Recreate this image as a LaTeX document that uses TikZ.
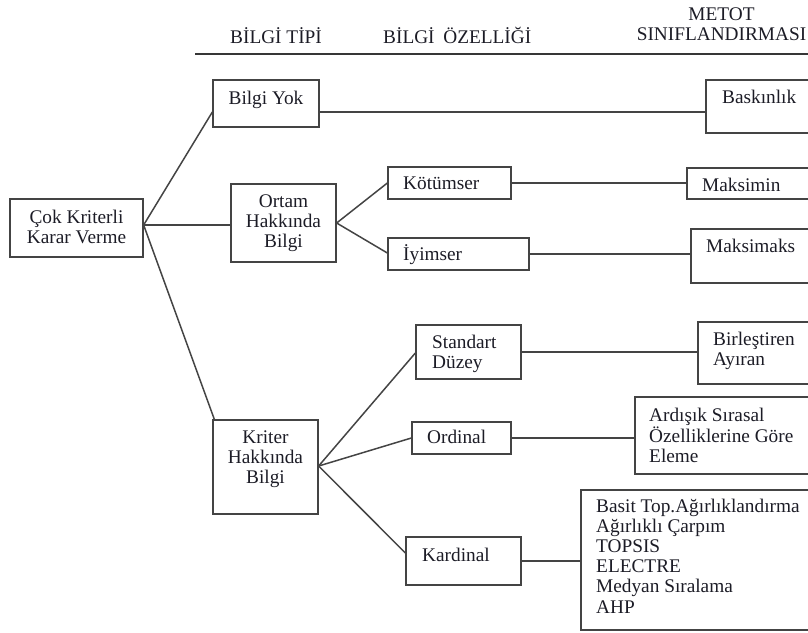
\documentclass[tikz,border=0pt]{standalone}
\usepackage{fontspec}
\setmainfont{Liberation Serif}
% stacked lines whose baseline is the baseline of the first line
\newcommand{\txtlines}[2][l]{\begin{tabular}[t]{@{}#1@{}}#2\end{tabular}}
\definecolor{inkcol}{RGB}{28,28,38}
\definecolor{rulecol}{RGB}{68,68,68}
\begin{document}
\begin{tikzpicture}[x=1pt,y=-1pt,
  box/.style={draw=rulecol, line width=1.3pt, inner sep=0pt, fill=none},
  conn/.style={draw=rulecol, line width=1.5pt},
  txt/.style={text=inkcol, inner sep=0pt, font=\fontsize{19.3}{20.2}\selectfont},
  headrule/.style={draw=rulecol!80!black, line width=2pt}]
\useasboundingbox (0,0) rectangle (808,632);
\clip (0,0) rectangle (808,632);

% column headings
\node[txt, anchor=base west] (h1) at (230,43.5) {BİLGİ TİPİ};
\node[txt, anchor=base west] (h2) at (383,43.5) {BİLGİ\hspace{0.45em}ÖZELLİĞİ};
\node[txt, anchor=base] (h3) at (721.5,20) {\txtlines[c]{METOT\\SINIFLANDIRMASI}};
\coordinate (hl) at (195,54);
\coordinate (hr) at (812,54);
\draw[headrule] (hl) -- (hr);

% boxes: root, information type, information property
\node[box, minimum width=133pt, minimum height=58pt] (cok)    at (76.5,228) {};
\node[box, minimum width=106pt, minimum height=47pt] (byok)   at (266,103.5) {};
\node[box, minimum width=105pt, minimum height=78pt] (ortam)  at (283.5,223) {};
\node[box, minimum width=105pt, minimum height=94pt] (kriter) at (265.5,467) {};
\node[box, minimum width=123pt, minimum height=32pt] (kotum)  at (449.5,183) {};
\node[box, minimum width=141pt, minimum height=32pt] (iyim)   at (458.5,254) {};
\node[box, minimum width=105pt, minimum height=54pt] (std)    at (468.5,352) {};
\node[box, minimum width=99pt,  minimum height=32pt] (ordi)   at (461.5,438) {};
\node[box, minimum width=115pt, minimum height=48pt] (kard)   at (463.5,561) {};

% method boxes, running off the right edge
\node[box, minimum width=134pt, minimum height=53pt]  (bask)     at (773,106.5) {};
\node[box, minimum width=153pt, minimum height=31pt]  (maksmin)  at (763.5,183.5) {};
\node[box, minimum width=149pt, minimum height=54pt]  (maksmaks) at (765.5,256) {};
\node[box, minimum width=142pt, minimum height=62pt]  (birl)     at (769,353) {};
\node[box, minimum width=205pt, minimum height=77pt]  (ardi)     at (737.5,435.5) {};
\node[box, minimum width=259pt, minimum height=140pt] (big)      at (710.5,560) {};

% texts
\node[txt, anchor=base] (tcok) at (76.5,223) {\txtlines[c]{Çok Kriterli\\Karar Verme}};
\node[txt, anchor=base] (tbyok) at (266,104) {Bilgi Yok};
\node[txt, anchor=base] (tortam) at (283.5,207) {\txtlines[c]{Ortam\\Hakkında\\Bilgi}};
\node[txt, anchor=base] (tkriter) at (265.5,443) {\txtlines[c]{Kriter\\Hakkında\\Bilgi}};
\node[txt, anchor=base west] (tkotum) at (403,189) {Kötümser};
\node[txt, anchor=base west] (tiyim) at (403,260) {İyimser};
\node[txt, anchor=base west] (tstd) at (432,348) {\txtlines{Standart\\Düzey}};
\node[txt, anchor=base west] (tordi) at (427,443) {Ordinal};
\node[txt, anchor=base west] (tkard) at (422,561) {Kardinal};
\node[txt, anchor=base west] (tbask) at (722,103) {Baskınlık};
\node[txt, anchor=base west] (tmaksmin) at (702,191) {Maksimin};
\node[txt, anchor=base west] (tmaksmaks) at (706,252) {Maksimaks};
\node[txt, anchor=base west] (tbirl) at (713,345) {\txtlines{Birleştiren\\Ayıran}};
\node[txt, anchor=base west] (tardi) at (649,421) {\txtlines{Ardışık Sırasal\\Özelliklerine Göre\\Eleme}};
\node[txt, anchor=base west] (tbig) at (596,512) {\txtlines{Basit Top.Ağırlıklandırma\\Ağırlıklı Çarpım\\TOPSIS\\ELECTRE\\Medyan Sıralama\\AHP}};

% connectors
\draw[conn] ([yshift=3pt]cok.east) -- ([yshift=-8.5pt]byok.west);
\draw[conn] ([yshift=3pt]cok.east) -- ([yshift=-2pt]ortam.west);
\draw[conn] ([yshift=3pt]cok.east) -- ([xshift=2pt]kriter.north west);
\draw[conn] (ortam.east) -- (kotum.west);
\draw[conn] (ortam.east) -- ([yshift=1pt]iyim.west);
\draw[conn] ([yshift=1pt]kriter.east) -- ([yshift=-1pt]std.west);
\draw[conn] ([yshift=1pt]kriter.east) -- (ordi.west);
\draw[conn] ([yshift=1pt]kriter.east) -- ([yshift=8pt]kard.west);
\draw[conn] ([yshift=-8.5pt]byok.east) -- ([yshift=-8.5pt]byok.east -| bask.west);
\draw[conn] (kotum.east) -- (kotum.east -| maksmin.west);
\draw[conn] (iyim.east) -- (iyim.east -| maksmaks.west);
\draw[conn] (std.east) -- (std.east -| birl.west);
\draw[conn] (ordi.east) -- (ordi.east -| ardi.west);
\draw[conn] (kard.east) -- (kard.east -| big.west);
\end{tikzpicture}
\end{document}
